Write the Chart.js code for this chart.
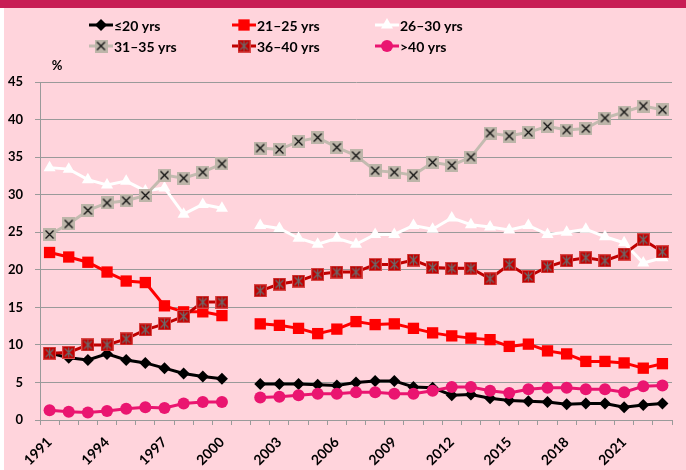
<!DOCTYPE html>
<html>
<head>
<meta charset="utf-8">
<script src="https://cdn.jsdelivr.net/npm/chart.js@4"></script>
<style>
  html, body { margin: 0; padding: 0; background: #fff; }
  #wrap { width: 686px; height: 470px; }
</style>
</head>
<body>
<div id="wrap"><canvas id="grafico" width="686" height="470"></canvas></div>
<script>
/* ---------- datos ---------- */

const anios = ["1991","1992","1993","1994","1995","1996","1997","1998","1999","2000",
  "2001","2002","2003","2004","2005","2006","2007","2008","2009","2010",
  "2011","2012","2013","2014","2015","2016","2017","2018","2019","2020",
  "2021","2022","2023"];

const nombres = ["\u226420 yrs", "21\u201325 yrs", "26\u201330 yrs", "31\u201335 yrs", "36\u201340 yrs", ">40 yrs"];

const hasta20 = [8.9, 8.3, 8.0, 8.8, 8.0, 7.6, 6.9, 6.2, 5.8, 5.5, null,
  4.8, 4.8, 4.8, 4.7, 4.6, 5.0, 5.2, 5.2, 4.4, 4.3, 3.3,
  3.4, 2.9, 2.6, 2.5, 2.4, 2.1, 2.2, 2.2, 1.7, 2.0, 2.2];

const de21a25 = [22.3, 21.7, 21.0, 19.7, 18.5, 18.3, 15.2, 14.4, 14.4, 13.9, null,
  12.8, 12.6, 12.2, 11.5, 12.1, 13.1, 12.7, 12.8, 12.2, 11.6, 11.2,
  10.9, 10.7, 9.8, 10.1, 9.2, 8.8, 7.8, 7.8, 7.6, 6.9, 7.5];

const de26a30 = [33.6, 33.4, 32.0, 31.3, 31.8, 30.5, 30.9, 27.4, 28.7, 28.2, null,
  25.9, 25.5, 24.2, 23.4, 24.2, 23.4, 24.7, 24.7, 25.9, 25.4, 26.9,
  26.0, 25.7, 25.3, 25.9, 24.7, 25.0, 25.4, 24.4, 23.6, 20.9, 21.6];

const de31a35 = [24.7, 26.1, 27.9, 28.9, 29.2, 29.9, 32.6, 32.2, 33.0, 34.1, null,
  36.2, 36.0, 37.1, 37.6, 36.3, 35.2, 33.2, 33.0, 32.6, 34.3, 33.9,
  35.0, 38.2, 37.8, 38.3, 39.1, 38.6, 38.8, 40.2, 41.0, 41.8, 41.3];

const de36a40 = [8.9, 9.0, 10.0, 10.0, 10.8, 12.0, 12.8, 13.8, 15.7, 15.7, null,
  17.2, 18.1, 18.5, 19.4, 19.7, 19.7, 20.7, 20.7, 21.3, 20.3, 20.2,
  20.2, 18.8, 20.7, 19.1, 20.4, 21.2, 21.6, 21.2, 22.1, 24.0, 22.4];

const mas40 = [1.3, 1.1, 1.0, 1.2, 1.5, 1.7, 1.6, 2.2, 2.4, 2.4, null,
  3.0, 3.1, 3.3, 3.5, 3.5, 3.7, 3.7, 3.5, 3.5, 3.9, 4.4,
  4.4, 3.9, 3.6, 4.1, 4.3, 4.3, 4.1, 4.1, 3.7, 4.5, 4.6];

const marcasY = [0, 5, 10, 15, 20, 25, 30, 35, 40, 45];

/* ---------- marcadores ---------- */

function marcaCruz(){
  const c = document.createElement("canvas");
  c.width = 13; c.height = 13;
  const g = c.getContext("2d");
  g.fillStyle = "#bdb5a9";
  g.fillRect(0, 0, 13, 13);
  g.strokeStyle = "#111";
  g.lineWidth = 1.3;
  g.beginPath();
  g.moveTo(2.5, 2.5); g.lineTo(10.5, 10.5);
  g.moveTo(10.5, 2.5); g.lineTo(2.5, 10.5);
  g.stroke();
  return c;
}

function marcaAsterisco(){
  const c = document.createElement("canvas");
  c.width = 13; c.height = 13;
  const g = c.getContext("2d");
  g.fillStyle = "#c00000";
  g.fillRect(0, 0, 13, 13);
  g.strokeStyle = "#d84a4a";
  g.lineWidth = 1;
  g.strokeRect(0.5, 0.5, 12, 12);
  g.strokeStyle = "#6a6a6a";
  g.lineWidth = 1.2;
  g.beginPath();
  g.moveTo(2.5, 2.5); g.lineTo(10.5, 10.5);
  g.moveTo(10.5, 2.5); g.lineTo(2.5, 10.5);
  g.moveTo(6.5, 1.5); g.lineTo(6.5, 11.5);
  g.stroke();
  return c;
}

/* ---------- series ---------- */

const estilos = [
  { data: hasta20, color: "#000000", punto: "rectRot", radio: 6 },
  { data: de21a25, color: "#ff0000", punto: "rect", radio: 8 },
  { data: de26a30, color: "#ffffff", punto: "triangle", radio: 7 },
  { data: de31a35, color: "#c3bbb0", punto: marcaCruz(), radio: 6 },
  { data: de36a40, color: "#c00000", punto: marcaAsterisco(), radio: 6 },
  { data: mas40, color: "#ea1570", punto: "circle", radio: 6 }
];

const datasets = estilos.map((e, i) => ({
  label: nombres[i],
  data: e.data,
  borderColor: e.color,
  backgroundColor: e.color,
  borderWidth: 3,
  pointStyle: e.punto,
  pointRadius: e.radio,
  pointHoverRadius: e.radio,
  pointBorderWidth: 0,
  pointBackgroundColor: e.color,
  spanGaps: false,
  tension: 0,
  order: 6 - i
}));

/* ---------- fondo, leyenda y "%" ---------- */

const fondo = {
  id: "fondo",
  beforeDraw(chart){
    const ctx = chart.ctx;
    ctx.save();
    ctx.fillStyle = "#ffd4dc";
    ctx.fillRect(4, 0, chart.width - 4, chart.height);
    ctx.fillStyle = "#c81e55";
    ctx.fillRect(0, 0, chart.width, 8);
    ctx.restore();
  }
};

const leyenda = {
  id: "leyenda",
  afterDraw(chart){
    const ctx = chart.ctx;
    const columnas = [89, 232, 375];
    const filas = [25, 46];
    ctx.save();
    ctx.font = "bold 14px Lato";
    ctx.textBaseline = "middle";
    ctx.fillStyle = "#000";
    chart.data.datasets.forEach((ds, i) => {
      const x = columnas[i % 3];
      const y = filas[Math.floor(i / 3)];
      ctx.strokeStyle = ds.borderColor;
      ctx.lineWidth = 3;
      ctx.beginPath();
      ctx.moveTo(x, y);
      ctx.lineTo(x + 24, y);
      ctx.stroke();
      ctx.fillStyle = ds.borderColor;
      Chart.helpers.drawPoint(ctx, {
        pointStyle: ds.pointStyle,
        radius: ds.pointRadius,
        borderWidth: 0,
        rotation: 0
      }, x + 12, y);
      ctx.fillStyle = "#000";
      ctx.fillText(ds.label, x + 25, y + 1);
    });
    ctx.font = "bold 13px Lato";
    ctx.textAlign = "center";
    ctx.fillText("%", 57, 66);
    ctx.restore();
  }
};

/* ---------- grafica ---------- */

new Chart(document.getElementById("grafico"), {
  type: "line",
  data: { labels: anios, datasets: datasets },
  options: {
    responsive: false,
    animation: false,
    layout: { padding: { top: 82, right: 14, left: 0, bottom: 0 } },
    plugins: {
      legend: { display: false },
      tooltip: { enabled: false }
    },
    scales: {
      x: {
        type: "category",
        offset: true,
        afterFit(s){ s.height = 50; },
        grid: {
          offset: true,
          drawOnChartArea: false,
          drawTicks: true,
          tickLength: 5,
          color: "#9a9a9a"
        },
        border: { color: "#9a9a9a", width: 1 },
        ticks: {
          autoSkip: false,
          minRotation: 45,
          maxRotation: 45,
          padding: 9,
          color: "#000",
          font: { family: "Lato", weight: "bold", size: 14 },
          callback: (v, i) => (i % 3 === 0 ? anios[i] : "")
        }
      },
      y: {
        min: 0,
        max: 45,
        afterFit(s){ s.width = 40; },
        afterBuildTicks(s){ s.ticks = marcasY.map(v => ({ value: v })); },
        grid: { color: "#9a9a9a", tickLength: 5, lineWidth: 1 },
        border: { color: "#9a9a9a", width: 1 },
        ticks: {
          padding: 12,
          color: "#000",
          font: { family: "Lato", weight: "bold", size: 13 }
        }
      }
    }
  },
  plugins: [fondo, leyenda]
});
</script>
</body>
</html>
